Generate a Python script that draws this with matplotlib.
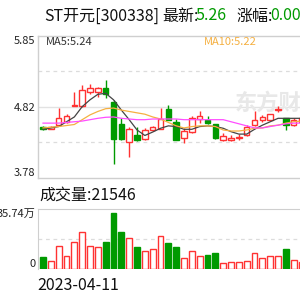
import matplotlib
matplotlib.use('Agg')
import matplotlib.pyplot as plt
import numpy as np

plt.rcParams['font.family'] = ['Noto Sans CJK SC', 'DejaVu Sans']

# daily candles (open, high, low, close)
opens  = [4.52, 4.50, 4.55, 4.59, 4.83, 4.83, 5.04, 5.04, 5.09, 4.89, 4.57, 4.31,
          4.41, 4.35, 4.48, 4.50, 4.79, 4.60, 4.36, 4.45, 4.64, 4.63, 4.56, 4.33,
          4.34, 4.37, 4.41, 4.55, 4.63, 4.63, 4.77, 4.65, 4.55, 4.60]
highs  = [4.54, 4.54, 4.80, 4.72, 5.04, 5.13, 5.15, 5.11, 5.21, 4.91, 4.65, 4.53,
          4.53, 4.51, 4.54, 4.80, 4.85, 4.64, 4.51, 4.68, 4.76, 4.68, 4.57, 4.43,
          4.40, 4.42, 4.55, 4.75, 4.70, 4.72, 4.83, 4.66, 4.66, 4.70]
lows   = [4.48, 4.49, 4.54, 4.58, 4.83, 4.82, 5.01, 4.96, 4.94, 3.98, 4.34, 4.09,
          4.32, 4.33, 4.47, 4.49, 4.62, 4.33, 4.29, 4.44, 4.58, 4.57, 4.35, 4.32,
          4.32, 4.33, 4.39, 4.54, 4.60, 4.62, 4.74, 4.48, 4.54, 4.58]
closes = [4.50, 4.52, 4.65, 4.68, 4.85, 5.06, 5.09, 5.09, 5.00, 4.35, 4.35, 4.49,
          4.33, 4.48, 4.52, 4.64, 4.63, 4.34, 4.46, 4.65, 4.68, 4.58, 4.36, 4.39,
          4.37, 4.38, 4.53, 4.63, 4.67, 4.71, 4.78, 4.55, 4.63, 4.66]

# volume in 万
volumes = [6.97, 4.97, 13.9, 7.9, 16.3, 21.8, 13.9, 12.9, 16.3, 33.2, 21.8, 18.3,
           12.9, 10.5, 11.7, 19.9, 15.3, 12.9, 6.8, 10.9, 7.9, 8.3, 9.3, 3.4,
           4.4, 4.0, 5.0, 9.7, 6.4, 7.9, 7.9, 11.7, 5.4, 4.0]

# moving averages
ma5  = [4.49, 4.51, 4.53, 4.60, 4.67, 4.82, 4.92, 5.00, 5.015, 4.92, 4.77, 4.63,
        4.48, 4.40, 4.45, 4.505, 4.54, 4.53, 4.49, 4.49, 4.53, 4.54, 4.53, 4.505,
        4.455, 4.42, 4.42, 4.49, 4.55, 4.60, 4.65, 4.65, 4.65, 4.65]
ma10 = [4.51, 4.52, 4.53, 4.545, 4.56, 4.63, 4.70, 4.75, 4.79, 4.80, 4.77, 4.75,
        4.73, 4.71, 4.67, 4.64, 4.59, 4.54, 4.51, 4.53, 4.54, 4.54, 4.53, 4.48,
        4.465, 4.465, 4.48, 4.505, 4.51, 4.54, 4.55, 4.58, 4.60, 4.61]
ma20 = [4.58, 4.58, 4.58, 4.59, 4.60, 4.61, 4.63, 4.65, 4.665, 4.67, 4.65, 4.64,
        4.63, 4.63, 4.64, 4.64, 4.64, 4.64, 4.63, 4.63, 4.63, 4.63, 4.63, 4.63,
        4.60, 4.57, 4.54, 4.51, 4.51, 4.53, 4.55, 4.57, 4.58, 4.58]

price_ticks = [3.78, 4.82, 5.85]
vol_max = 35.74
start_date = '2023-04-11'

RED = '#ff3232'
GREEN = '#009a00'

x = np.arange(len(opens))
fig = plt.figure(figsize=(3, 3), dpi=100)

def px(l, t, r, b):
    return [l / 300, 1 - b / 300, (r - l) / 300, (b - t) / 300]

# ---- price panel
ax = fig.add_axes(px(38, 36, 300, 178))
ax.set_xlim(-0.64, 32.8)
ax.set_ylim(3.78, 5.85)
ax.axhline(4.82, color='#e2e2e2', lw=1, zorder=0)
for y in (5.335, 4.30):
    ax.axhline(y, color='#dcdcdc', lw=0.9, ls=(0, (3, 3)), zorder=0)

for i in x:
    up = closes[i] >= opens[i]
    c = RED if up else GREEN
    ax.vlines(i, lows[i], highs[i], color=c, lw=1, zorder=2)
    lo, hi = min(opens[i], closes[i]), max(opens[i], closes[i])
    h = max(hi - lo, 0.012)
    ax.bar(i, h, bottom=lo, width=0.7, color='white' if up else GREEN,
           edgecolor=c, linewidth=1, zorder=3)

ax.plot(x, ma5, color='#444444', lw=0.9, zorder=4)
ax.plot(x, ma10, color='#f5b041', lw=0.9, zorder=4)
ax.plot(x, ma20, color='#ff4dff', lw=0.9, zorder=4)

ax.set_xticks([])
ax.set_yticks(price_ticks)
ax.set_yticklabels([f'{v:.2f}' for v in price_ticks], fontsize=8, color='#222222')
ax.tick_params(axis='y', length=0, pad=2)
labs = ax.get_yticklabels()
labs[0].set_va('bottom')
labs[2].set_va('top')
ax.spines['right'].set_visible(False)
for s in ('left', 'top', 'bottom'):
    ax.spines[s].set_color('#cfcfcf')
    ax.spines[s].set_linewidth(1)

# faint watermark, clipped by the figure edge like the original
ax.text(0.75, 0.53, '东方财富', transform=ax.transAxes, fontsize=16,
        fontweight='bold', color='#e8e8e8', zorder=1, va='center', clip_on=True)

ax.text(0.03, 0.955, 'MA5:5.24', transform=ax.transAxes, fontsize=8,
        color='#333333', va='center')
ax.text(0.635, 0.955, 'MA10:5.22', transform=ax.transAxes, fontsize=8,
        color='#f5b041', va='center')

# ---- volume panel
vx = fig.add_axes(px(38, 209, 300, 269))
vx.set_xlim(-0.64, 32.8)
vx.set_ylim(0, vol_max)
vx.axhline(vol_max / 2, color='#dcdcdc', lw=0.9, ls=(0, (3, 3)), zorder=0)
for i in x:
    up = closes[i] >= opens[i]
    vx.bar(i, volumes[i], width=0.74, color='white' if up else GREEN,
           edgecolor=RED if up else GREEN, linewidth=1, zorder=3)
vx.set_xticks([])
vx.set_yticks([0, vol_max])
vx.set_yticklabels(['0', f'{vol_max:.2f}万'], fontsize=8, color='#222222')
vx.tick_params(axis='y', length=0, pad=2)
vl = vx.get_yticklabels()
vl[0].set_va('bottom')
vl[1].set_va('top')
vx.spines['right'].set_visible(False)
vx.spines['bottom'].set_visible(False)
for s in ('left', 'top'):
    vx.spines[s].set_color('#cfcfcf')

# ---- header texts
def ftext(xp, yp, s, c='#111111', fs=11.5):
    fig.text(xp / 300, 1 - yp / 300, s, color=c, fontsize=fs, va='center')

ftext(44, 16, 'ST开元[300338]')
ftext(162, 16, '最新:')
ftext(196, 16, '5.26', GREEN)
ftext(236, 16, '涨幅:')
ftext(270, 16, '0.00', GREEN)
ftext(39, 195, '成交量:21546')
ftext(37, 285, start_date)

fig.savefig('out.png', dpi=100)
